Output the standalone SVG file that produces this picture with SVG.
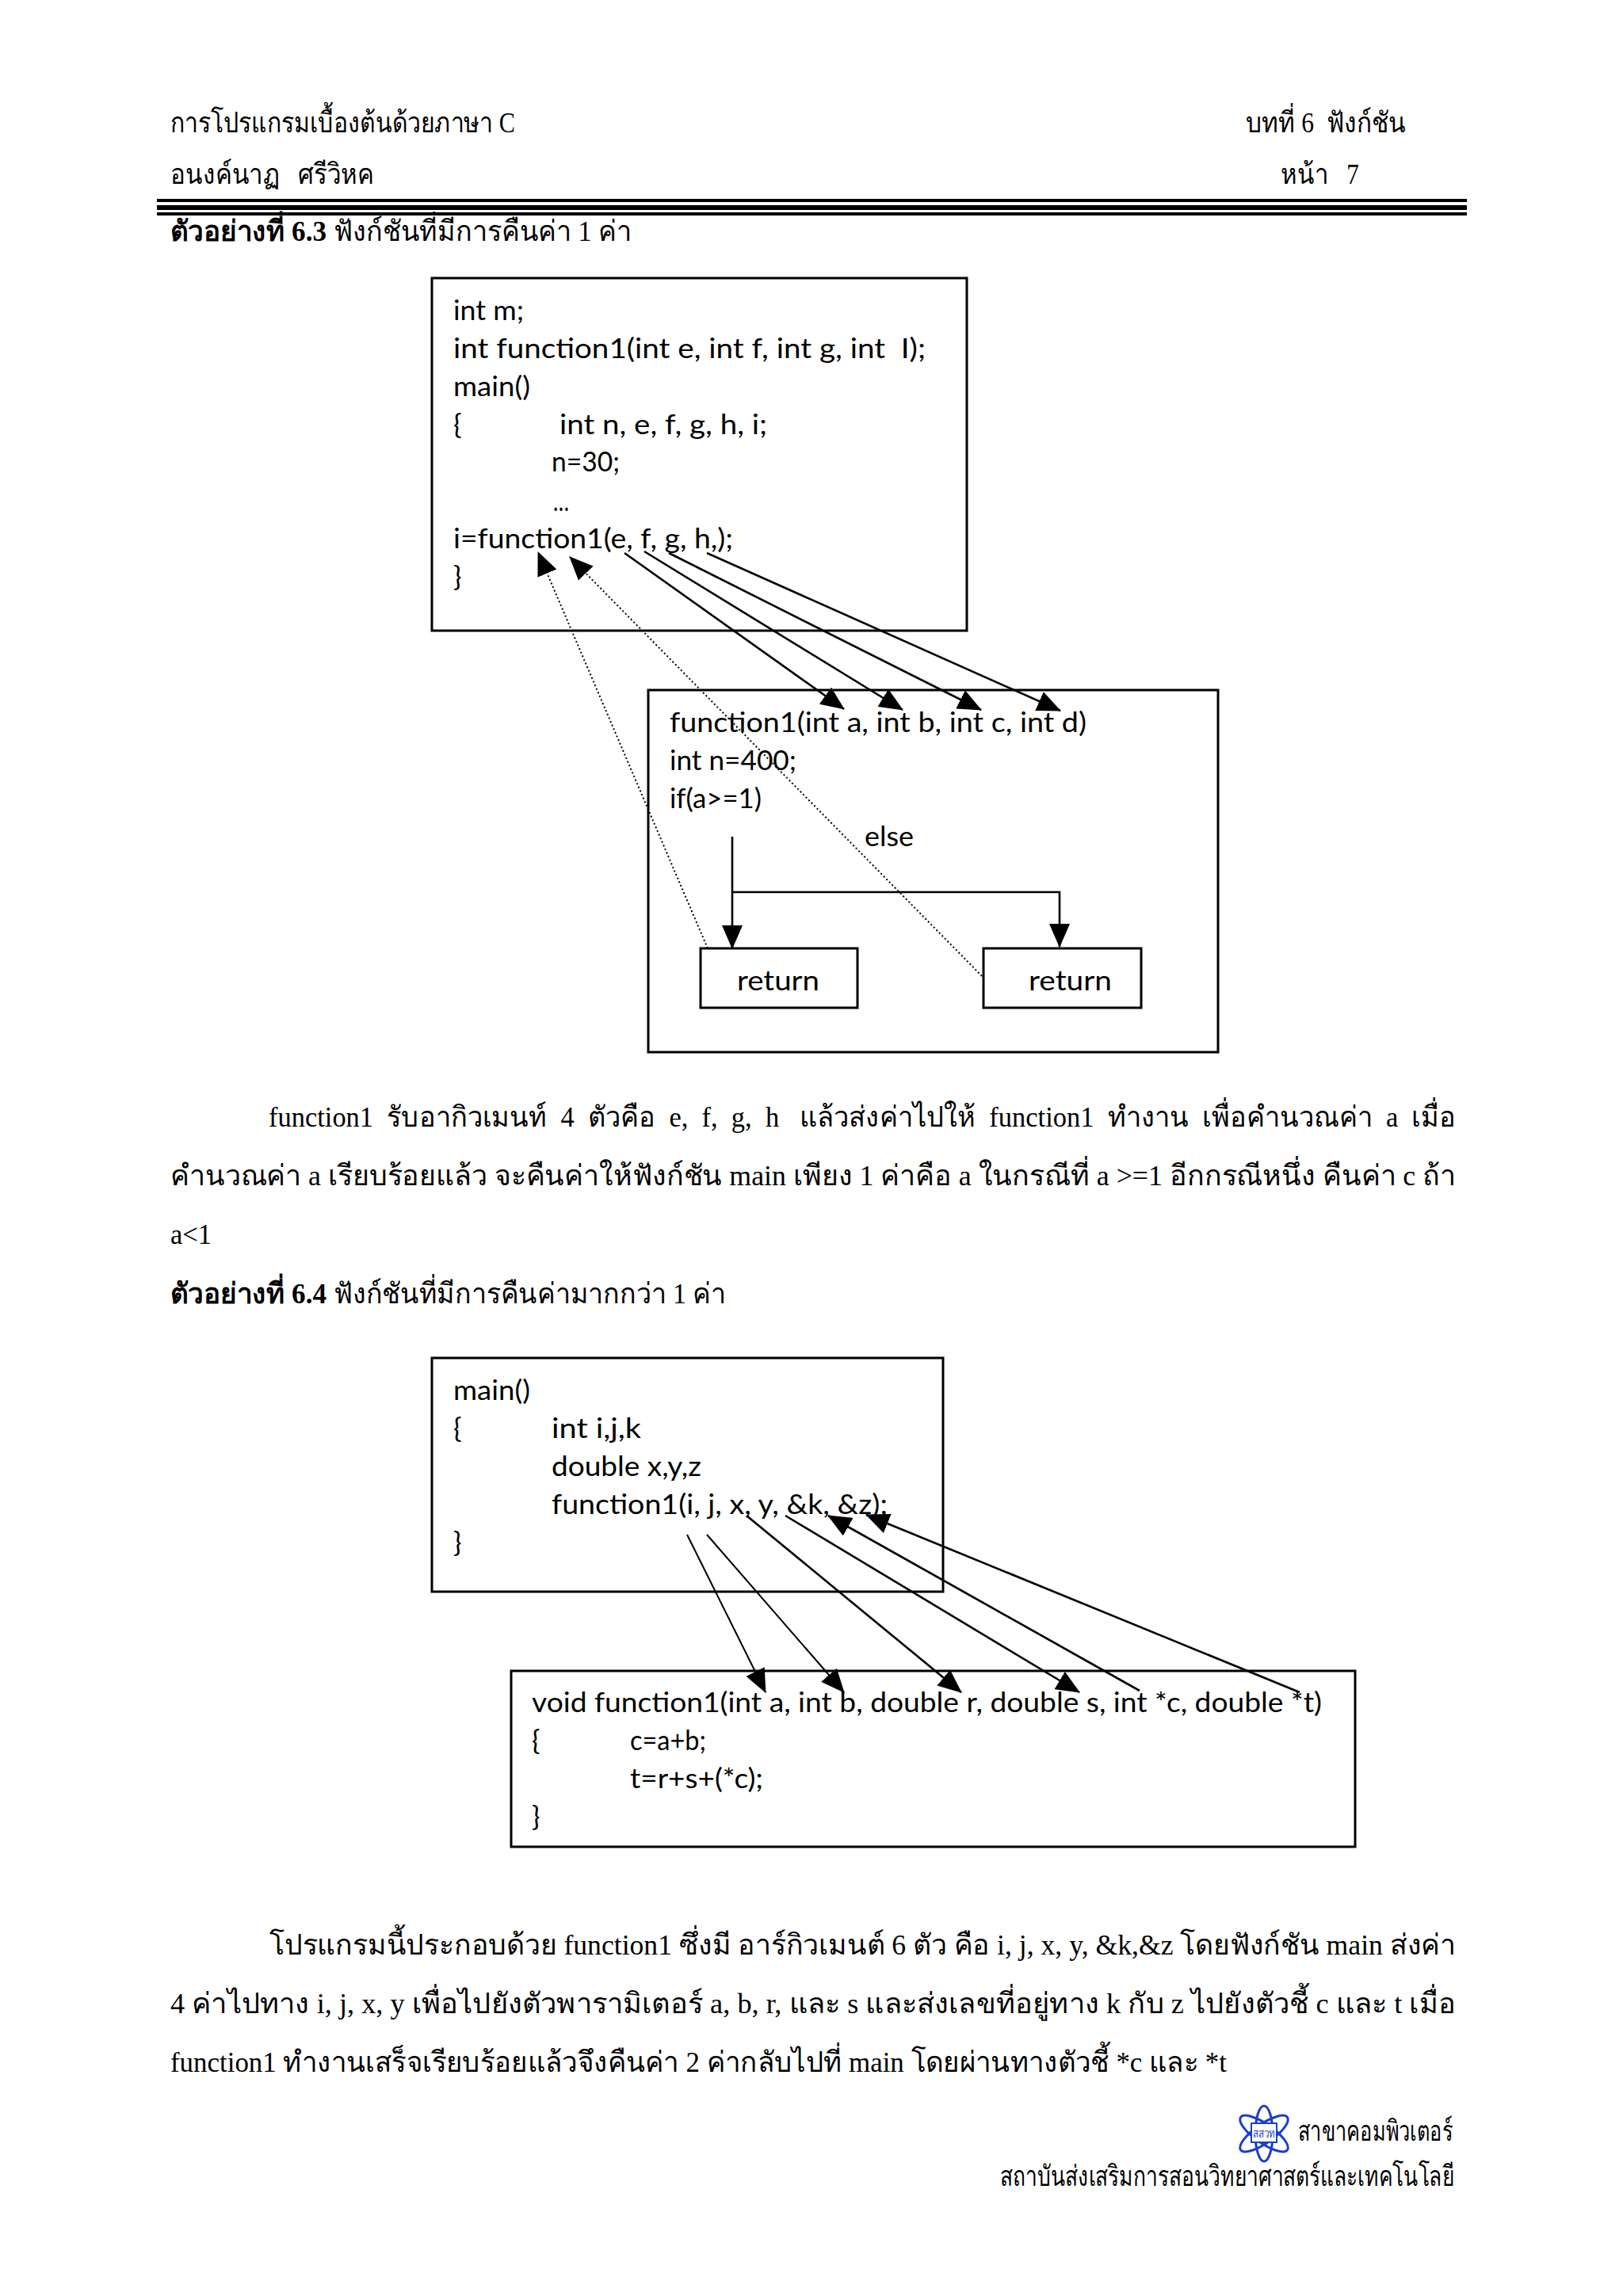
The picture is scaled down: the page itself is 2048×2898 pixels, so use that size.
<svg xmlns="http://www.w3.org/2000/svg" width="2048" height="2898" viewBox="0 0 2048 2898">
<style>
text{fill:#000;white-space:pre}
.t{font-family:"Liberation Serif","Noto Sans","DejaVu Serif",serif;font-size:36px}
.b{font-weight:bold}
.c{font-family:"Lato","Open Sans",sans-serif;font-size:35px}
.box{fill:none;stroke:#000;stroke-width:3}
.ln{fill:none;stroke:#000;stroke-width:2.6}
.thin{fill:none;stroke:#000;stroke-width:2}
.dot{fill:none;stroke:#000;stroke-width:2;stroke-dasharray:2 3}
.orb{fill:none;stroke:#1c3fc8;stroke-width:3}
</style>
<defs>
<marker id="ah" markerUnits="userSpaceOnUse" markerWidth="30" markerHeight="26" refX="29" refY="13" orient="auto"><path d="M0,0L30,13L0,26z" fill="#000"/></marker>
</defs>
<rect width="2048" height="2898" fill="#fff"/>

<g id="page-header">
<text class="t" x="215" y="167" textLength="435" lengthAdjust="spacingAndGlyphs">การโปรแกรมเบื้องต้นด้วยภาษา C</text>
<text class="t" x="1572" y="167" textLength="202" lengthAdjust="spacingAndGlyphs">บทที่ 6  ฟังก์ชัน</text>
<text class="t" x="215" y="232" textLength="257" lengthAdjust="spacingAndGlyphs">อนงค์นาฏ   ศรีวิหค</text>
<text class="t" x="1616" y="232" textLength="99" lengthAdjust="spacingAndGlyphs">หน้า   7</text>
</g>

<g id="heading-6-3">
<text class="t b" x="215" y="304" textLength="197" lengthAdjust="spacingAndGlyphs">ตัวอย่างที่ 6.3</text>
<text class="t" x="421" y="304" textLength="376" lengthAdjust="spacingAndGlyphs">ฟังก์ชันที่มีการคืนค่า 1 ค่า</text>
</g>

<g id="header-rules">
<rect x="198" y="251" width="1653" height="4"/>
<rect x="198" y="259" width="1653" height="6"/>
<rect x="198" y="268" width="1653" height="4"/>
</g>

<g id="main-box-1">
<rect class="box" x="545" y="351" width="675" height="445"/>
<text class="c" x="572" y="404" textLength="89" lengthAdjust="spacingAndGlyphs">int m;</text>
<text class="c" x="572" y="452" textLength="596" lengthAdjust="spacingAndGlyphs">int function1(int e, int f, int g, int  I);</text>
<text class="c" x="572" y="500" textLength="97" lengthAdjust="spacingAndGlyphs">main()</text>
<text class="c" x="572" y="548">{</text>
<text class="c" x="706" y="548" textLength="262" lengthAdjust="spacingAndGlyphs">int n, e, f, g, h, i;</text>
<text class="c" x="696" y="595" textLength="86" lengthAdjust="spacingAndGlyphs">n=30;</text>
<text class="c" x="698" y="645" textLength="20" lengthAdjust="spacingAndGlyphs">…</text>
<text class="c" x="572" y="692" textLength="353" lengthAdjust="spacingAndGlyphs">i=function1(e, f, g, h,);</text>
<text class="c" x="572" y="740">}</text>
</g>

<g id="function-box-1">
<rect class="box" x="818" y="871" width="719" height="457"/>
<text class="c" x="845" y="924" textLength="526" lengthAdjust="spacingAndGlyphs">function1(int a, int b, int c, int d)</text>
<text class="c" x="845" y="972" textLength="160" lengthAdjust="spacingAndGlyphs">int n=400;</text>
<text class="c" x="845" y="1020" textLength="116" lengthAdjust="spacingAndGlyphs">if(a&gt;=1)</text>
<text class="c" x="1091" y="1068" textLength="62" lengthAdjust="spacingAndGlyphs">else</text>
</g>

<g id="return-1">
<rect class="box" x="884" y="1197" width="198" height="75"/>
<text class="c" x="930" y="1250" textLength="104" lengthAdjust="spacingAndGlyphs">return</text>
</g>
<g id="return-2">
<rect class="box" x="1241" y="1197" width="199" height="75"/>
<text class="c" x="1298" y="1250" textLength="105" lengthAdjust="spacingAndGlyphs">return</text>
</g>

<g id="paragraph-1">
<text class="t" x="339" y="1422" textLength="1498" lengthAdjust="spacingAndGlyphs">function1  รับอากิวเมนท์  4  ตัวคือ  e,  f,  g,  h   แล้วส่งค่าไปให้  function1  ทำงาน  เพื่อคำนวณค่า  a  เมื่อ</text>
<text class="t" x="215" y="1496" textLength="1622" lengthAdjust="spacingAndGlyphs">คำนวณค่า a เรียบร้อยแล้ว จะคืนค่าให้ฟังก์ชัน main เพียง 1 ค่าคือ a ในกรณีที่ a &gt;=1 อีกกรณีหนึ่ง คืนค่า c ถ้า</text>
<text class="t" x="215" y="1570" textLength="52" lengthAdjust="spacingAndGlyphs">a&lt;1</text>
</g>

<g id="heading-6-4">
<text class="t b" x="215" y="1645" textLength="197" lengthAdjust="spacingAndGlyphs">ตัวอย่างที่ 6.4</text>
<text class="t" x="421" y="1645" textLength="495" lengthAdjust="spacingAndGlyphs">ฟังก์ชันที่มีการคืนค่ามากกว่า 1 ค่า</text>
</g>

<g id="main-box-2">
<rect class="box" x="545" y="1714" width="645" height="295"/>
<text class="c" x="572" y="1767" textLength="97" lengthAdjust="spacingAndGlyphs">main()</text>
<text class="c" x="572" y="1815">{</text>
<text class="c" x="696" y="1815" textLength="113" lengthAdjust="spacingAndGlyphs">int i,j,k</text>
<text class="c" x="696" y="1863" textLength="189" lengthAdjust="spacingAndGlyphs">double x,y,z</text>
<text class="c" x="696" y="1911" textLength="424" lengthAdjust="spacingAndGlyphs">function1(i, j, x, y, &amp;k, &amp;z);</text>
<text class="c" x="572" y="1959">}</text>
</g>

<g id="function-box-2">
<rect class="box" x="645" y="2109" width="1065" height="222"/>
<text class="c" x="671" y="2161" textLength="997" lengthAdjust="spacingAndGlyphs">void function1(int a, int b, double r, double s, int *c, double *t)</text>
<text class="c" x="671" y="2209">{</text>
<text class="c" x="795" y="2209" textLength="96" lengthAdjust="spacingAndGlyphs">c=a+b;</text>
<text class="c" x="795" y="2257" textLength="168" lengthAdjust="spacingAndGlyphs">t=r+s+(*c);</text>
<text class="c" x="671" y="2305">}</text>
</g>

<g id="paragraph-2">
<text class="t" x="340" y="2467" textLength="1497" lengthAdjust="spacingAndGlyphs">โปรแกรมนี้ประกอบด้วย function1 ซึ่งมี อาร์กิวเมนต์ 6 ตัว คือ i, j, x, y, &amp;k,&amp;z โดยฟังก์ชัน main ส่งค่า</text>
<text class="t" x="215" y="2541" textLength="1622" lengthAdjust="spacingAndGlyphs">4 ค่าไปทาง i, j, x, y เพื่อไปยังตัวพารามิเตอร์ a, b, r, และ s และส่งเลขที่อยู่ทาง k กับ z ไปยังตัวชี้ c และ t เมื่อ</text>
<text class="t" x="215" y="2615" textLength="1333" lengthAdjust="spacingAndGlyphs">function1 ทำงานเสร็จเรียบร้อยแล้วจึงคืนค่า 2 ค่ากลับไปที่ main โดยผ่านทางตัวชี้ *c และ *t</text>
</g>

<g id="footer">
<g id="logo" transform="translate(1595,2693)">
<ellipse class="orb" rx="36" ry="12" transform="rotate(35)"/>
<ellipse class="orb" rx="36" ry="12" transform="rotate(-35)"/>
<ellipse class="orb" rx="11" ry="35"/>
<rect x="-16" y="-13" width="32" height="24" fill="#fff" stroke="#1c3fc8" stroke-width="2"/>
<text x="0" y="5" text-anchor="middle" style="font-family:'Liberation Serif','Noto Sans',serif;font-size:15px;fill:#1c3fc8" textLength="28" lengthAdjust="spacingAndGlyphs">สสวท</text>
</g>
<text class="t" x="1638" y="2702" textLength="195" lengthAdjust="spacingAndGlyphs">สาขาคอมพิวเตอร์</text>
<text class="t" x="1262" y="2759" textLength="573" lengthAdjust="spacingAndGlyphs">สถาบันส่งเสริมการสอนวิทยาศาสตร์และเทคโนโลยี</text>
</g>

<g id="connectors">
<line class="ln" x1="788" y1="698" x2="1065" y2="895" marker-end="url(#ah)"/>
<line class="ln" x1="813" y1="696" x2="1139" y2="896" marker-end="url(#ah)"/>
<line class="ln" x1="844" y1="698" x2="1238" y2="896" marker-end="url(#ah)"/>
<line class="ln" x1="892" y1="698" x2="1338" y2="897" marker-end="url(#ah)"/>
<line class="dot" x1="893" y1="1197" x2="679" y2="697" marker-end="url(#ah)"/>
<line class="dot" x1="1239" y1="1232" x2="719" y2="703" marker-end="url(#ah)"/>
<line class="ln" x1="924" y1="1056" x2="924" y2="1197" marker-end="url(#ah)"/>
<path class="ln" d="M924,1126H1337V1195" marker-end="url(#ah)"/>
<line class="thin" x1="867" y1="1937" x2="966" y2="2136" marker-end="url(#ah)"/>
<line class="thin" x1="892" y1="1937" x2="1065" y2="2136" marker-end="url(#ah)"/>
<line class="ln" x1="942" y1="1913" x2="1213" y2="2136" marker-end="url(#ah)"/>
<line class="ln" x1="991" y1="1913" x2="1362" y2="2136" marker-end="url(#ah)"/>
<line class="ln" x1="1438" y1="2134" x2="1045" y2="1913" marker-end="url(#ah)"/>
<line class="ln" x1="1640" y1="2136" x2="1093" y2="1912" marker-end="url(#ah)"/>
</g>
</svg>
